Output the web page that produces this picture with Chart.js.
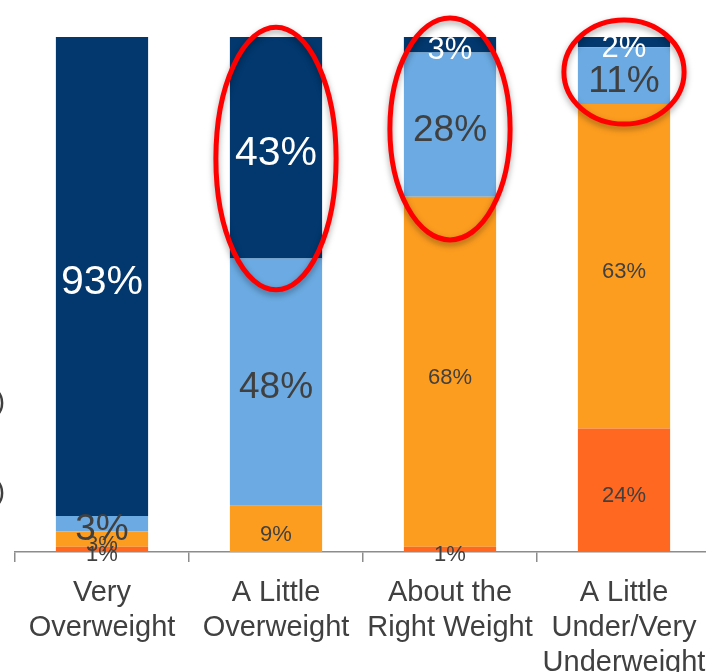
<!DOCTYPE html>
<html>
<head>
<meta charset="utf-8">
<script src="https://cdn.jsdelivr.net/npm/chart.js@4"></script>
<style>
  html, body { margin: 0; padding: 0; background: #fff; overflow: hidden; }
  #wrap { position: relative; width: 711px; height: 672px; }
</style>
</head>
<body>
<div id="wrap"><canvas id="chart"></canvas></div>
<script>
// actual weight groups (x axis)
const categories = [
    ["Very", "Overweight"],
    ["A Little", "Overweight"],
    ["About the", "Right Weight"],
    ["A Little", "Under/Very", "Underweight"]
]

// perceived weight, bottom to top, in percent
const underweight = [1, 0, 1, 24]
const aboutRight = [3, 9, 68, 63]
const littleOverweight = [3, 48, 28, 11]
const veryOverweight = [93, 43, 3, 2]

const seriesNames = ["Underweight", "About the Right Weight", "A Little Overweight", "Very Overweight"]
const seriesColors = ["#FE6820", "#FD9D1F", "#6BAAE2", "#02386E"]

// label look per series
const labelStyle = [
    { size: 22, color: "#404040" },
    { size: 22, color: "#404040" },
    { size: 37, color: "#404040" },
    { size: 41, small: 31, color: "#ffffff" }
]

// red rings drawn over some bars (value range on the y scale)
const highlights = [
    { index: 1, from: 50.9, to: 101.9 },
    { index: 2, from: 60.6, to: 103.7 },
    { index: 3, from: 83.1, to: 103.3 }
]

const fontFamily = "'Liberation Sans', Arial, sans-serif"

const segmentLabels = {
    id: "segmentLabels",
    afterDatasetsDraw(chart) {
        const ctx = chart.ctx
        const area = chart.chartArea
        ctx.save()
        ctx.beginPath()
        ctx.rect(0, area.top, chart.width, chart.height - area.top)
        ctx.clip()
        ctx.textAlign = "center"
        ctx.textBaseline = "middle"
        chart.data.datasets.forEach((ds, i) => {
            const meta = chart.getDatasetMeta(i)
            const style = labelStyle[i]
            meta.data.forEach((bar, j) => {
                const v = ds.data[j]
                if (!v) return
                const size = style.small && v < 5 ? style.small : style.size
                ctx.font = size + "px " + fontFamily
                ctx.fillStyle = style.color
                ctx.fillText(v + "%", bar.x, (bar.y + bar.base) / 2 + 6)
            })
        })
        ctx.restore()
    }
}

const rings = {
    id: "rings",
    afterDraw(chart) {
        const ctx = chart.ctx
        const y = chart.scales.y
        const meta = chart.getDatasetMeta(0)
        ctx.save()
        ctx.strokeStyle = "#FF0000"
        ctx.lineWidth = 5
        ctx.shadowColor = "rgba(0,0,0,0.35)"
        ctx.shadowBlur = 6
        ctx.shadowOffsetY = 3
        highlights.forEach(h => {
            const bar = meta.data[h.index]
            const top = y.getPixelForValue(h.to)
            const bottom = y.getPixelForValue(h.from)
            ctx.beginPath()
            ctx.ellipse(bar.x, (top + bottom) / 2, bar.width / 2 + 14, (bottom - top) / 2, 0, 0, Math.PI * 2)
            ctx.stroke()
        })
        ctx.restore()

        // cut-off legend text at the left edge
        ctx.save()
        ctx.font = "28px " + fontFamily
        ctx.fillStyle = "#404040"
        ctx.textAlign = "right"
        ctx.textBaseline = "middle"
        ctx.fillText(")", 5, 402)
        ctx.fillText(")", 5, 492)
        ctx.restore()
    }
}

const data = {
    labels: categories,
    datasets: [underweight, aboutRight, littleOverweight, veryOverweight].map((values, i) => ({
        label: seriesNames[i],
        data: values,
        backgroundColor: seriesColors[i],
        borderWidth: 0,
        categoryPercentage: 1,
        barPercentage: 0.53
    }))
}

const config = {
    type: "bar",
    data: data,
    options: {
        responsive: true,
        maintainAspectRatio: false,
        animation: false,
        layout: { padding: { top: 37, left: 15, right: 0, bottom: 0 } },
        plugins: {
            legend: { display: false },
            tooltip: { enabled: false }
        },
        scales: {
            x: {
                stacked: true,
                offset: true,
                grid: {
                    display: true,
                    offset: true,
                    drawOnChartArea: false,
                    drawTicks: true,
                    tickLength: 10,
                    color: "#8C8C8C",
                    lineWidth: 1.5
                },
                border: { display: true, color: "#8C8C8C", width: 1.5 },
                ticks: {
                    color: "#404040",
                    font: { family: fontFamily, size: 29, lineHeight: 1.22 },
                    padding: 13,
                    maxRotation: 0,
                    autoSkip: false
                },
                afterFit(axis) {
                    axis.height = 120
                    axis.paddingLeft = 0
                    axis.paddingRight = 0
                }
            },
            y: {
                stacked: true,
                display: false,
                min: 0,
                max: 100
            }
        }
    },
    plugins: [segmentLabels, rings]
}

new Chart(document.getElementById("chart"), config)
</script>
</body>
</html>
